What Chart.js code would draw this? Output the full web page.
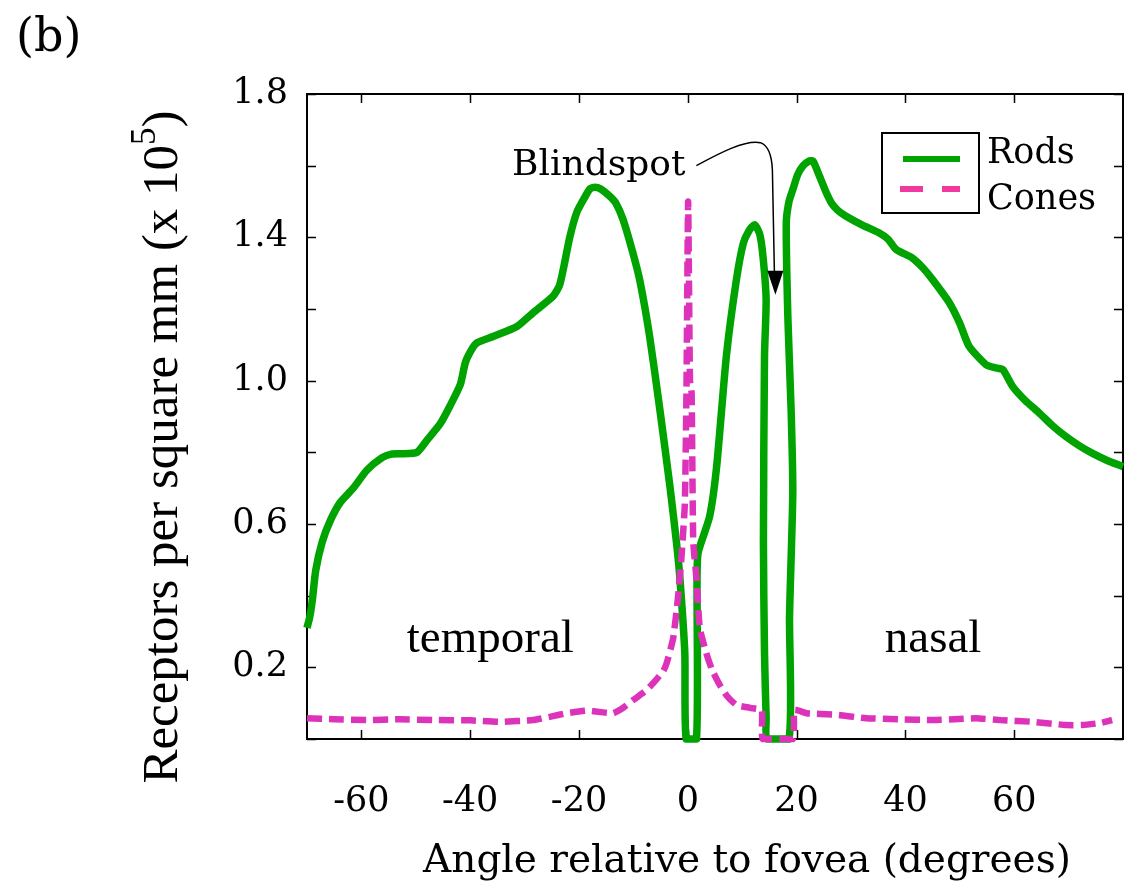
<!DOCTYPE html>
<html><head><meta charset="utf-8">
<script src="https://cdn.jsdelivr.net/npm/chart.js@4.4.1/dist/chart.umd.min.js"></script>
<style>html,body{margin:0;padding:0;background:#fff;} canvas{display:block;}</style>
</head><body>
<canvas id="c" width="1127" height="887"></canvas>
<script>
// ---- data ----
const seriesNames = ['Rods', 'Cones'];
const rodAngles = [-70, -69.5, -69.0, -68.4, -67.2, -65.7, -63.9, -61.5, -59.0, -56.2, -54.5, -52.8, -49.8, -47.9, -45.5, -43.7, -41.8, -40.9, -39.8, -38.8, -35.8, -31.4, -28.4, -24.8, -23.6, -22.9, -21.7, -20.4, -19.0, -18.0, -17.1, -16.0, -14.3, -13.2, -11.9, -10.1, -8.8, -7.0, -5.1, -3.3, -2.1, -1.5, -0.55, -0.3, 1.6, 1.7, 1.9, 4.0, 5.3, 7.1, 8.9, 10.2, 11.3, 12.3, 13.2, 13.8, 14.4, 14.1, 13.9, 14.1, 14.4, 14.6, 18.6, 18.7, 19.3, 19.0, 18.4, 18.1, 18.6, 19.3, 20.2, 21.2, 22.2, 23.0, 24.2, 25.3, 26.4, 27.6, 29.1, 32.0, 35.2, 36.8, 38.3, 41.3, 43.2, 45.0, 48.1, 50.0, 51.7, 54.8, 56.5, 57.9, 59.7, 62.0, 64.6, 67.0, 69.5, 72.0, 74.4, 77.0, 80];
const rodValues = [0.31, 0.34, 0.39, 0.47, 0.55, 0.61, 0.66, 0.70, 0.75, 0.785, 0.795, 0.796, 0.80, 0.835, 0.88, 0.93, 0.99, 1.05, 1.085, 1.105, 1.123, 1.151, 1.19, 1.235, 1.265, 1.31, 1.40, 1.47, 1.51, 1.535, 1.54, 1.535, 1.514, 1.495, 1.45, 1.357, 1.278, 1.122, 0.915, 0.707, 0.551, 0.458, 0.24, 0.0, 0.0, 0.447, 0.52, 0.62, 0.76, 1.07, 1.278, 1.383, 1.42, 1.435, 1.41, 1.35, 1.226, 1.07, 0.55, 0.24, 0.06, 0.0, 0.0, 0.34, 0.687, 0.915, 1.174, 1.44, 1.50, 1.533, 1.575, 1.60, 1.612, 1.613, 1.571, 1.53, 1.496, 1.475, 1.459, 1.435, 1.412, 1.395, 1.366, 1.342, 1.315, 1.282, 1.217, 1.16, 1.096, 1.045, 1.036, 1.031, 0.984, 0.945, 0.91, 0.875, 0.844, 0.818, 0.797, 0.778, 0.76];
const coneAngles = [-70, -65, -59, -53, -46.8, -40, -34.5, -28.4, -25, -22.3, -18.6, -16, -13.7, -11.8, -10.0, -7.6, -6.4, -4.5, -3.9, -2.7, -1.8, -1.2, -0.55, -0.25, 0.06, 0.4, 0.7, 1.0, 1.6, 2.2, 3.4, 4.4, 5.9, 7.2, 8.9, 11.4, 13.6, 13.8, 19.3, 19.6, 21.8, 27, 32.8, 39, 45.0, 49, 53.0, 58, 63.4, 69.5, 72.5, 76, 78.0];
const coneValues = [0.058, 0.055, 0.053, 0.055, 0.053, 0.052, 0.048, 0.053, 0.063, 0.072, 0.079, 0.075, 0.072, 0.088, 0.109, 0.136, 0.155, 0.19, 0.211, 0.28, 0.395, 0.50, 0.655, 0.966, 1.50, 1.0, 0.966, 0.551, 0.447, 0.31, 0.24, 0.195, 0.15, 0.12, 0.095, 0.087, 0.08, 0.0, 0.0, 0.081, 0.072, 0.068, 0.058, 0.055, 0.053, 0.055, 0.058, 0.052, 0.048, 0.039, 0.039, 0.045, 0.053];
const xTickValues = [-60, -40, -20, 0, 20, 40, 60];
const yTickLabels = ['0.2', '0.6', '1.0', '1.4', '1.8'];
const xTitle = 'Angle relative to fovea (degrees)';
const yTitleMain = 'Receptors per square mm (x 10';
const yTitleSup = '5';
const yTitleEnd = ')';
const panelLabel = '(b)';
const blindLabel = 'Blindspot';
const regionLabels = ['temporal', 'nasal'];

const GREEN = '#00a300';
const MAGENTA = '#dd33bb';
const SERIF = '"DejaVu Serif", serif';
const TIMES = '"Liberation Serif", "Times New Roman", serif';

const toPts = (xs, ys) => xs.map((v, i) => ({x: v, y: ys[i]}));

const decor = {
  id: 'decor',
  beforeDatasetsDraw(chart) {
    const {ctx, chartArea: a, scales: {x, y}} = chart;
    ctx.save();
    ctx.strokeStyle = '#000';
    ctx.lineWidth = 2;
    ctx.strokeRect(a.left, a.top, a.right - a.left, a.bottom - a.top);
    ctx.lineWidth = 1.5;
    const L = 9;
    ctx.beginPath();
    x.ticks.forEach(t => {
      const px = Math.round(x.getPixelForValue(t.value)) + 0.5;
      ctx.moveTo(px, a.bottom); ctx.lineTo(px, a.bottom - L);
      ctx.moveTo(px, a.top); ctx.lineTo(px, a.top + L);
    });
    y.ticks.forEach(t => {
      const py = Math.round(y.getPixelForValue(t.value)) + 0.5;
      ctx.moveTo(a.left, py); ctx.lineTo(a.left + L, py);
      ctx.moveTo(a.right, py); ctx.lineTo(a.right - L, py);
    });
    ctx.stroke();
    ctx.restore();
  },
  afterDatasetsDraw(chart) {
    const {ctx, chartArea: a, scales: {x, y}} = chart;
    ctx.save();
    ctx.fillStyle = '#000';
    // panel label
    ctx.font = '46px ' + SERIF;
    ctx.textAlign = 'left'; ctx.textBaseline = 'alphabetic';
    ctx.fillText(panelLabel, 16, 51);
    // region labels
    ctx.font = '47px ' + TIMES;
    ctx.textAlign = 'center';
    ctx.fillText(regionLabels[0], x.getPixelForValue(-36.3), y.getPixelForValue(0.243));
    ctx.fillText(regionLabels[1], x.getPixelForValue(45.1), y.getPixelForValue(0.243));
    // blindspot annotation
    const tx = x.getPixelForValue(16.1), ty = y.getPixelForValue(1.24);
    ctx.font = '36px ' + SERIF;
    ctx.textAlign = 'right';
    ctx.fillText(blindLabel, tx - 90, ty - 120);
    ctx.strokeStyle = '#000'; ctx.lineWidth = 1.5;
    ctx.beginPath();
    ctx.moveTo(tx - 79, ty - 129);
    ctx.bezierCurveTo(tx - 55, ty - 142, tx - 30, ty - 155, tx - 15, ty - 152);
    ctx.quadraticCurveTo(tx - 4, ty - 148, tx - 3, ty - 125);
    ctx.lineTo(tx - 1, ty - 23);
    ctx.stroke();
    ctx.beginPath();
    ctx.moveTo(tx - 8, ty - 24); ctx.lineTo(tx + 8, ty - 24); ctx.lineTo(tx, ty); ctx.closePath();
    ctx.fill();
    // legend
    const bx = 882, by = 133, bw = 97, bh = 80;
    ctx.lineWidth = 2; ctx.strokeStyle = '#000';
    ctx.strokeRect(bx, by, bw, bh);
    ctx.lineWidth = 6;
    ctx.strokeStyle = GREEN;
    ctx.beginPath(); ctx.moveTo(903, 159); ctx.lineTo(960, 159); ctx.stroke();
    ctx.strokeStyle = '#f0389f';
    ctx.setLineDash([23, 19]);
    ctx.beginPath(); ctx.moveTo(900, 189); ctx.lineTo(960, 189); ctx.stroke();
    ctx.setLineDash([]);
    ctx.font = '35px ' + SERIF;
    ctx.textAlign = 'left';
    ctx.fillText(seriesNames[0], 987, 163);
    ctx.fillText(seriesNames[1], 987, 209);
    // x title
    ctx.font = '39px ' + SERIF;
    ctx.textAlign = 'center';
    ctx.fillText(xTitle, 747, 872);
    // y title (rotated, with superscript)
    ctx.translate(177, 447);
    ctx.rotate(-Math.PI / 2);
    ctx.font = '51px ' + TIMES;
    const w1 = ctx.measureText(yTitleMain).width;
    const w3 = ctx.measureText(yTitleEnd).width;
    ctx.font = '35px ' + TIMES;
    const w2 = ctx.measureText(yTitleSup).width;
    const total = w1 + w2 + w3;
    let sx = -total / 2;
    ctx.textAlign = 'left';
    ctx.font = '51px ' + TIMES;
    ctx.fillText(yTitleMain, sx, 0);
    ctx.font = '35px ' + TIMES;
    ctx.fillText(yTitleSup, sx + w1, -22);
    ctx.font = '51px ' + TIMES;
    ctx.fillText(yTitleEnd, sx + w1 + w2, 0);
    ctx.restore();
  }
};

new Chart(document.getElementById('c'), {
  type: 'line',
  data: {
    datasets: [
      {label: seriesNames[0], data: toPts(rodAngles, rodValues), borderColor: GREEN, borderWidth: 7.5,
       pointRadius: 0, tension: 0.2, fill: false, order: 2, clip: 10, borderJoinStyle: 'round'},
      {label: seriesNames[1], data: toPts(coneAngles, coneValues), borderColor: MAGENTA, borderWidth: 6.5,
       borderDash: [15, 7], pointRadius: 0, tension: 0.15, fill: false, order: 1, clip: 10}
    ]
  },
  options: {
    responsive: false,
    animation: false,
    devicePixelRatio: 1,
    layout: {padding: {top: 94, right: 4, left: 0, bottom: 0}},
    plugins: {legend: {display: false}, tooltip: {enabled: false}},
    scales: {
      x: {
        type: 'linear', min: -70, max: 80,
        afterBuildTicks: s => { s.ticks = xTickValues.map(v => ({value: v})); },
        afterFit: s => { s.height = 148; },
        grid: {display: false, drawTicks: false},
        border: {display: false},
        ticks: {font: {family: SERIF, size: 35}, color: '#000', padding: 42, maxRotation: 0, autoSkip: false,
                callback: v => String(v)}
      },
      y: {
        type: 'linear', min: 0, max: 1.8,
        afterFit: s => { s.width = 307; },
        grid: {display: false, drawTicks: false},
        border: {display: false},
        ticks: {stepSize: 0.2, font: {family: SERIF, size: 35}, color: '#000', padding: 19,
                callback: v => { const s = (Math.round(v * 10) / 10).toFixed(1); return yTickLabels.includes(s) ? s : ''; }}
      }
    }
  },
  plugins: [decor]
});
</script>
</body></html>
